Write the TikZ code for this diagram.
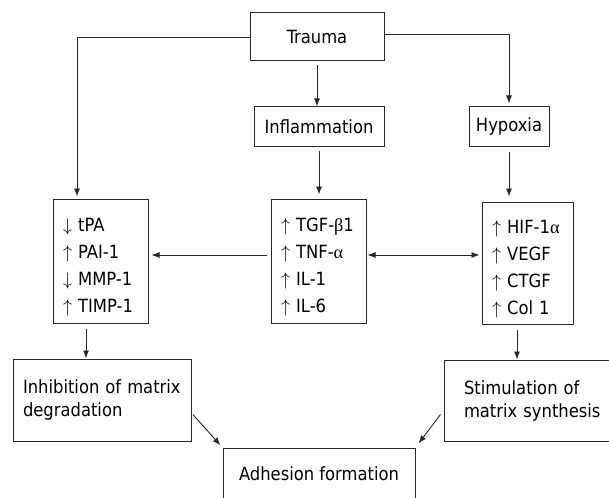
\documentclass[tikz,border=0pt]{standalone}
\usepackage{fix-cm}
\usepackage{fontspec}
\setmainfont{DejaVu Sans Condensed}
\newfontfamily\grk{Liberation Serif}
\usetikzlibrary{arrows.meta}
\begin{document}
\begin{tikzpicture}[x=1pt,y=-1pt]

    \tikzset{
      box/.style={
        draw=black!85,
        line width=1pt,
        inner sep=0pt,
        font=\fontsize{18.2}{23}\selectfont,
      },
      listbox/.style={
        box,
        align=left,
        inner xsep=10pt,
        font=\fontsize{18.2}{27}\selectfont,
      },
      arr/.style={
        draw=black!85,
        line width=0.9pt,
        -{Latex[length=8pt,width=6pt]},
      },
    }
    \useasboundingbox (0,0) rectangle (609,497);
	\node[box, minimum width=134pt, minimum height=48pt] (trauma) at (317,37) {Trauma};
	\node[box, minimum width=130pt, minimum height=39pt] (inflam) at (319,126.5) {Inflammation};
	\node[box, minimum width=80pt, minimum height=39pt] (hypoxia) at (509,126.5) {Hypoxia};
	\node[listbox, text width=75pt, minimum height=124pt] (lbox) at (100.5,261) {\rule{0pt}{25pt}$\downarrow$ tPA\\$\uparrow$ PAI-1\\$\downarrow$ MMP-1\\$\uparrow$ TIMP-1};
	\node[listbox, text width=75pt, minimum height=124pt] (mbox) at (318.5,261) {\rule{0pt}{25pt}\mbox{$\uparrow$ TGF-{\grk β}1}\\$\uparrow$ TNF-{\grk α}\\$\uparrow$ IL-1\\$\uparrow$ IL-6};
	\node[listbox, text width=71pt, minimum height=122pt] (rbox) at (527.5,263) {\rule{0pt}{25pt}\mbox{$\uparrow$ HIF-1{\grk α}}\\$\uparrow$ VEGF\\$\uparrow$ CTGF\\$\uparrow$ Col 1};
	\node[box, align=left, inner xsep=10pt, text width=158pt, minimum height=82pt] (inhib) at (102,400) {Inhibition of matrix\\degradation};
	\node[box, align=left, inner xsep=20pt, text width=140pt, minimum height=81pt] (stim) at (534,400.5) {Stimulation of\\matrix synthesis};
	\node[box, minimum width=192pt, minimum height=52pt] (adh) at (319,474) {Adhesion formation};
	% arrows from trauma
	\draw[arr, shorten >=2pt] (trauma.west) -| ([xshift=-23.5pt]lbox.north);
	\draw[arr, shorten >=3pt] ([yshift=3pt]trauma.east) -| (hypoxia.north);
	\draw[arr, shorten <=4pt] (trauma.south) -- (trauma.south |- inflam.north);
	\draw[arr, shorten <=4pt, shorten >=4pt] (inflam.south) -- (inflam.south |- mbox.north);
	\draw[arr, shorten <=5pt, shorten >=5pt] (hypoxia.south) -- (hypoxia.south |- rbox.north);
	% cross links
	\draw[arr, shorten <=4pt, shorten >=3pt] ([yshift=6pt]mbox.west) -- ([yshift=6pt]lbox.east);
	\draw[arr, {Latex[length=8pt,width=6pt]}-{Latex[length=8pt,width=6pt]}, shorten <=1pt, shorten >=2pt] ([yshift=6pt]mbox.east) -- ([yshift=8pt]rbox.west);
	% lower part
	\draw[arr, shorten <=5pt] ([xshift=-14.5pt]lbox.south) -- ([xshift=-14.5pt]lbox.south |- inhib.north);
	\draw[arr, shorten <=5pt] ([xshift=-10.5pt]rbox.south) -- ([xshift=-10.5pt]rbox.south |- stim.north);
	\draw[arr, shorten <=2pt, shorten >=3pt] ([yshift=-13pt]inhib.east) -- (adh.north west);
	\draw[arr, shorten <=5pt, shorten >=5pt] ([yshift=-10pt]stim.west) -- (adh.north east);

\end{tikzpicture}
\end{document}
